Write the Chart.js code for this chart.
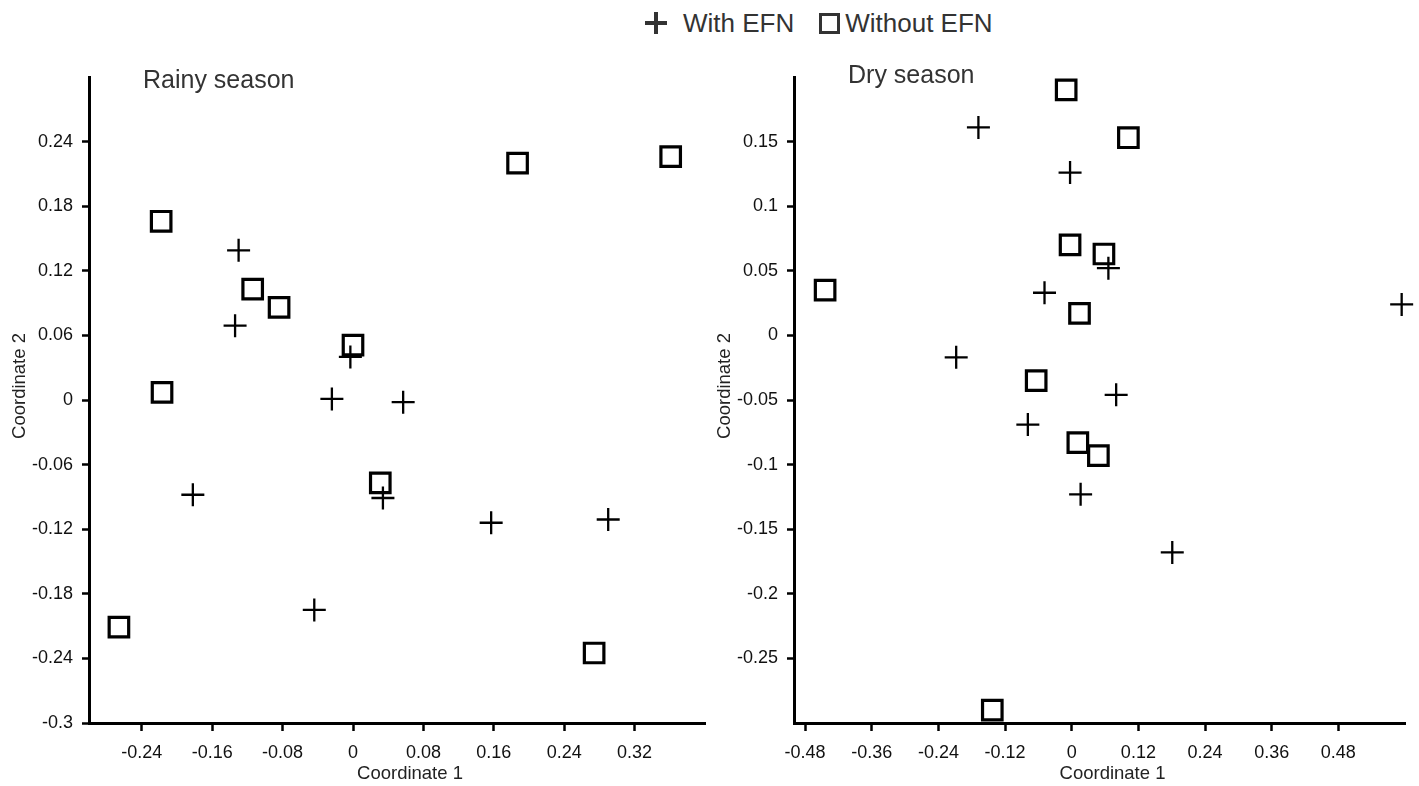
<!DOCTYPE html>
<html>
<head>
<meta charset="utf-8">
<title>NMDS EFN</title>
<script src="https://cdn.jsdelivr.net/npm/chart.js@4.4.0/dist/chart.umd.min.js"></script>
<style>
  html, body { margin: 0; padding: 0; background: #fff; }
  body { width: 1419px; height: 786px; position: relative; overflow: hidden;
         font-family: 'Liberation Sans', Arial, sans-serif; }
  #rainy { position: absolute; left: 0; top: 0; }
  #dry { position: absolute; left: 710px; top: 0; }
  #legend { position: absolute; left: 645px; top: 8px; display: flex; align-items: center;
            font-size: 26px; line-height: 30px; color: #333; }
  .item { display: flex; align-items: center; }
  .cross { position: relative; width: 22px; height: 22px; margin-right: 16px; }
  .cross::before { content: ''; position: absolute; left: 0; top: 9px; width: 22px; height: 4px; background: #333; }
  .cross::after { content: ''; position: absolute; left: 9px; top: 0; width: 4px; height: 22px; background: #333; }
  .box { width: 15px; height: 15px; border: 3px solid #333; margin-right: 5px; margin-left: 25px; }
</style>
</head>
<body>
<div id="legend"></div>
<canvas id="rainy" width="710" height="786"></canvas>
<canvas id="dry" width="709" height="786"></canvas>
<script>
const seriesNames = ['With EFN', 'Without EFN'];

// rainy season, coordinate 1 / coordinate 2
const rainyWithX = [-0.130, -0.134, -0.003, -0.024, 0.057, -0.182, 0.034, 0.157, 0.290, -0.044];
const rainyWithY = [0.139, 0.069, 0.040, 0.001, -0.002, -0.088, -0.091, -0.114, -0.111, -0.195];
const rainyWithoutX = [-0.218, -0.114, -0.084, 0.000, -0.217, 0.031, -0.266, 0.187, 0.361, 0.274];
const rainyWithoutY = [0.166, 0.103, 0.086, 0.051, 0.007, -0.077, -0.211, 0.220, 0.226, -0.235];

// dry season
const dryWithX = [-0.168, -0.003, 0.066, -0.049, 0.594, -0.208, 0.080, -0.079, 0.016, 0.181];
const dryWithY = [0.161, 0.126, 0.052, 0.033, 0.024, -0.017, -0.046, -0.069, -0.123, -0.168];
const dryWithoutX = [-0.010, 0.102, -0.003, 0.058, -0.444, 0.014, -0.064, 0.011, 0.048, -0.143];
const dryWithoutY = [0.190, 0.153, 0.070, 0.063, 0.035, 0.017, -0.035, -0.083, -0.093, -0.290];

const rainyXTicks = [-0.24, -0.16, -0.08, 0, 0.08, 0.16, 0.24, 0.32];
const rainyYTicks = [-0.3, -0.24, -0.18, -0.12, -0.06, 0, 0.06, 0.12, 0.18, 0.24];
const dryXTicks = [-0.48, -0.36, -0.24, -0.12, 0, 0.12, 0.24, 0.36, 0.48];
const dryYTicks = [-0.25, -0.2, -0.15, -0.1, -0.05, 0, 0.05, 0.1, 0.15];

const FONT = "'Liberation Sans', Arial, sans-serif";

function pts(xs, ys) {
  return xs.map((x, i) => ({ x: x, y: ys[i] }));
}

function fmt(v) {
  return String(Number(v.toFixed(2)));
}

// panel name inside the plot + axis titles (placed off-centre like the original)
const panelText = {
  id: 'panelText',
  afterDraw(chart, args, opts) {
    const ctx = chart.ctx;
    const a = chart.chartArea;
    ctx.save();
    ctx.font = '25px ' + FONT;
    ctx.fillStyle = '#333';
    ctx.textBaseline = 'alphabetic';
    ctx.fillText(opts.text, a.left + 54, opts.y);

    ctx.font = '18.5px ' + FONT;
    ctx.fillStyle = '#222';
    ctx.textAlign = 'center';
    ctx.fillText('Coordinate 1', (a.left + a.right) / 2 + 13, 779);
    ctx.translate(opts.yTitleX, (a.top + a.bottom) / 2 - 14);
    ctx.rotate(-Math.PI / 2);
    ctx.fillText('Coordinate 2', 0, 0);
    ctx.restore();
  }
};

function axis(ticks, min, max, size) {
  return {
    type: 'linear',
    min: min,
    max: max,
    afterBuildTicks: s => { s.ticks = ticks.map(v => ({ value: v })); },
    afterFit: s => {
      if (size.w) s.width = size.w;
      if (size.h) { s.height = size.h; s.paddingLeft = 0; s.paddingRight = 0; }
    },
    ticks: { color: '#111', font: { size: 18, family: FONT }, padding: size.w ? 9 : 11,
             callback: v => fmt(v), autoSkip: false, maxRotation: 0 },
    grid: { drawOnChartArea: false, drawTicks: true, tickLength: size.w ? 7 : 8,
            tickWidth: 2.5, tickColor: '#000' },
    border: { display: true, color: '#000', width: 3 }
  };
}

function makeChart(id, withPts, withoutPts, xs, ys, yWidth, padRight, yTitleX, titleText, titleY) {
  new Chart(document.getElementById(id), {
    type: 'scatter',
    data: {
      datasets: [{
        label: seriesNames[0],
        data: withPts,
        pointStyle: 'cross',
        pointRadius: 11.5,
        borderColor: '#000',
        borderWidth: 2.3,
        clip: false
      }, {
        label: seriesNames[1],
        data: withoutPts,
        pointStyle: 'rect',
        pointRadius: 13.8,
        borderColor: '#000',
        backgroundColor: 'rgba(0,0,0,0)',
        borderWidth: 3.2,
        clip: false
      }]
    },
    options: {
      responsive: false,
      animation: false,
      events: [],
      layout: { autoPadding: false, padding: { top: 77, right: padRight, bottom: 0, left: 0 } },
      plugins: {
        legend: { display: false },
        tooltip: { enabled: false },
        panelText: { text: titleText, y: titleY, yTitleX: yTitleX }
      },
      scales: {
        x: axis(xs.ticks, xs.min, xs.max, { h: 63 }),
        y: axis(ys.ticks, ys.min, ys.max, { w: yWidth })
      }
    },
    plugins: [panelText]
  });
}

makeChart('rainy',
  pts(rainyWithX, rainyWithY), pts(rainyWithoutX, rainyWithoutY),
  { ticks: rainyXTicks, min: -0.3, max: 0.4 },
  { ticks: rainyYTicks, min: -0.3, max: 0.3 },
  89, 5, 25, 'Rainy season', 88);

makeChart('dry',
  pts(dryWithX, dryWithY), pts(dryWithoutX, dryWithoutY),
  { ticks: dryXTicks, min: -0.5, max: 0.6 },
  { ticks: dryYTicks, min: -0.3, max: 0.2 },
  84, 14, 20, 'Dry season', 83);

// legend
const legend = document.getElementById('legend');
seriesNames.forEach((name, i) => {
  const item = document.createElement('div');
  item.className = 'item';
  const sym = document.createElement('span');
  sym.className = i === 0 ? 'cross' : 'box';
  const txt = document.createElement('span');
  txt.textContent = name;
  item.appendChild(sym);
  item.appendChild(txt);
  legend.appendChild(item);
});
</script>
</body>
</html>
